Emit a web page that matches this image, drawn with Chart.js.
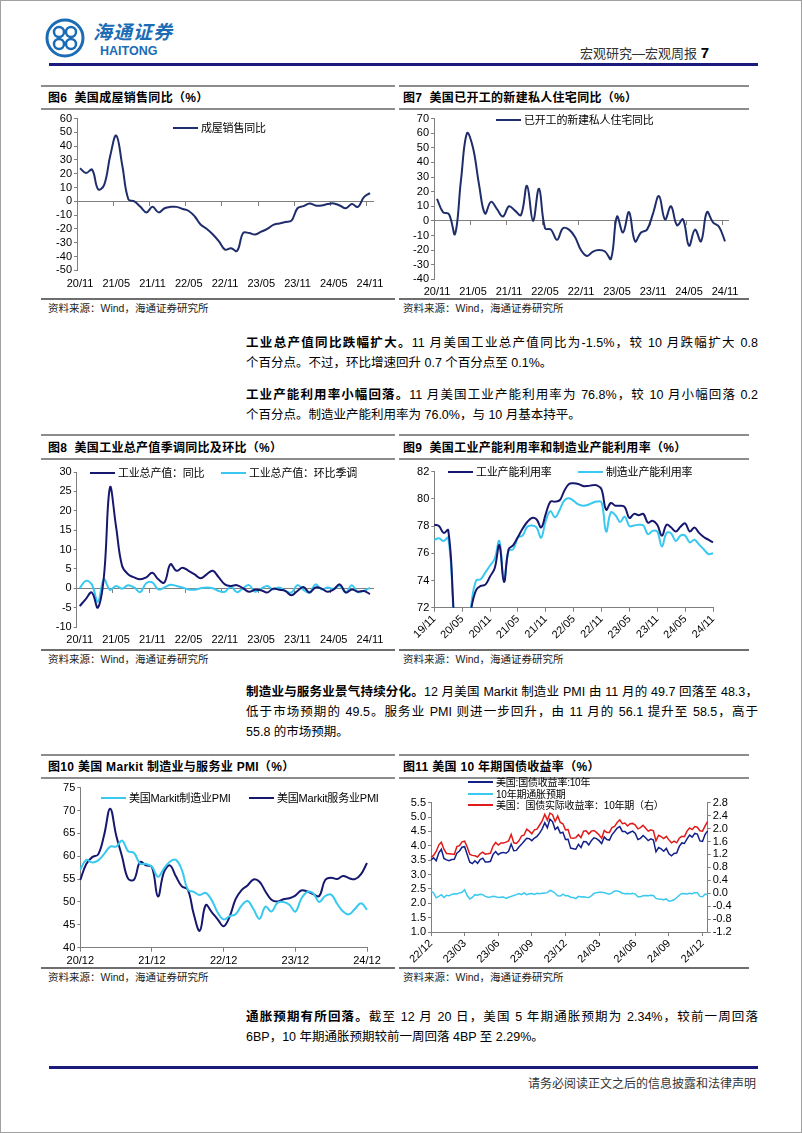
<!DOCTYPE html>
<html>
<head>
<meta charset="utf-8">
<title>宏观研究—宏观周报 7</title>
<script src="https://cdn.jsdelivr.net/npm/chart.js@4.4.1/dist/chart.umd.min.js"></script>
<style>
  body { margin: 0; background: #fff; }
  #page { position: relative; width: 802px; height: 1133px; overflow: hidden; box-sizing: border-box;
          border: 1px solid #a0a0a0; font-family: "Liberation Sans", Arial, "Noto Sans CJK SC", sans-serif; color: #000; }
  .abs { position: absolute; }
  .rule { position: absolute; height: 2px; background: #8c8c8c; }
  .navy { position: absolute; height: 3px; background: #1b1a7d; }
  .title { position: absolute; font-weight: bold; font-size: 12px; line-height: 14px; white-space: nowrap; letter-spacing: 0.3px; }
  .src { position: absolute; font-size: 10.5px; line-height: 13px; white-space: nowrap; color: #222; }
  .ln { position: absolute; left: 245px; width: 512px; height: 20px; font-size: 12.5px; line-height: 20px; }
  .ln.j { text-align: justify; text-align-last: justify; }
  .ln b { font-weight: bold; }
  canvas { position: absolute; }
  .lg { position: absolute; font-size: 11px; line-height: 12px; white-space: nowrap; letter-spacing: -0.2px; z-index: 2; }
  .lg i { display: inline-block; width: 25px; height: 2px; vertical-align: middle; margin-right: 3px; position: relative; top: -1px; }
  .lg.s { font-size: 10px; line-height: 11px; }
</style>
</head>
<body>
<div id="page">
  <!-- header -->
  <svg class="abs" style="left:44px;top:17px" width="40" height="40" viewBox="0 0 40 40">
    <circle cx="20" cy="20" r="18" fill="none" stroke="#1a6cb5" stroke-width="3"/>
    <circle cx="14" cy="14" r="5" fill="none" stroke="#1a6cb5" stroke-width="2.5"/>
    <circle cx="26" cy="14" r="5" fill="none" stroke="#1a6cb5" stroke-width="2.5"/>
    <circle cx="14" cy="26" r="5" fill="none" stroke="#1a6cb5" stroke-width="2.5"/>
    <circle cx="26" cy="26" r="5" fill="none" stroke="#1a6cb5" stroke-width="2.5"/>
  </svg>
  <div class="abs" style="left:92px;top:19px;font-size:19px;line-height:22px;font-weight:bold;font-style:italic;color:#1a6cb5;letter-spacing:1px;font-family:'Noto Sans CJK SC'">海通证券</div>
  <div class="abs" style="left:99px;top:43px;font-size:12.5px;line-height:14px;font-weight:bold;color:#1a6cb5">HAITONG</div>
  <div class="abs" style="left:520px;width:188px;top:44px;text-align:right;font-size:13px;line-height:16px;color:#333;white-space:nowrap">宏观研究—宏观周报 <b style="font-size:15px;color:#000">7</b></div>
  <div class="navy" style="left:48px;width:709px;top:62px"></div>

  <!-- row 1 -->
  <div class="rule" style="left:40px;width:354px;top:84px"></div>
  <div class="rule" style="left:398px;width:350px;top:84px"></div>
  <div class="title" style="left:47px;top:90px">图6&nbsp;&nbsp;美国成屋销售同比（%）</div>
  <div class="title" style="left:402px;top:90px">图7&nbsp;&nbsp;美国已开工的新建私人住宅同比（%）</div>
  <div class="rule" style="left:40px;width:354px;top:107px"></div>
  <div class="rule" style="left:398px;width:350px;top:107px"></div>
  <canvas id="c6"></canvas>
  <canvas id="c7"></canvas>
  <div class="lg" style="left:172px;top:121px"><i style="background:#1f2d6b"></i>成屋销售同比</div>
  <div class="lg" style="left:495px;top:113px"><i style="background:#1f2d6b"></i>已开工的新建私人住宅同比</div>
  <div class="rule" style="left:40px;width:354px;top:297px;background:#6e6e6e"></div>
  <div class="rule" style="left:398px;width:350px;top:297px;background:#6e6e6e"></div>
  <div class="src" style="left:47px;top:301px">资料来源：Wind，海通证券研究所</div>
  <div class="src" style="left:402px;top:301px">资料来源：Wind，海通证券研究所</div>

  <div class="ln j" style="top:332px"><b>工业总产值同比跌幅扩大。</b>11 月美国工业总产值同比为-1.5%，较 10 月跌幅扩大 0.8</div>
  <div class="ln" style="top:352px">个百分点。不过，环比增速回升 0.7 个百分点至 0.1%。</div>
  <div class="ln j" style="top:384px"><b>工业产能利用率小幅回落。</b>11 月美国工业产能利用率为 76.8%，较 10 月小幅回落 0.2</div>
  <div class="ln" style="top:404px">个百分点。制造业产能利用率为 76.0%，与 10 月基本持平。</div>

  <!-- row 2 -->
  <div class="rule" style="left:40px;width:354px;top:433px"></div>
  <div class="rule" style="left:398px;width:350px;top:433px"></div>
  <div class="title" style="left:47px;top:440px">图8&nbsp;&nbsp;美国工业总产值季调同比及环比（%）</div>
  <div class="title" style="left:402px;top:440px">图9&nbsp;&nbsp;美国工业产能利用率和制造业产能利用率（%）</div>
  <div class="rule" style="left:40px;width:354px;top:457px"></div>
  <div class="rule" style="left:398px;width:350px;top:457px"></div>
  <canvas id="c8"></canvas>
  <canvas id="c9"></canvas>
  <div class="lg" style="left:89px;top:466px"><i style="background:#16186e"></i>工业总产值：同比</div>
  <div class="lg" style="left:220px;top:466px"><i style="background:#38c8f0"></i>工业总产值：环比季调</div>
  <div class="lg" style="left:447px;top:465px"><i style="background:#16186e"></i>工业产能利用率</div>
  <div class="lg" style="left:577px;top:465px"><i style="background:#38c8f0"></i>制造业产能利用率</div>
  <div class="rule" style="left:40px;width:354px;top:648px;background:#6e6e6e"></div>
  <div class="rule" style="left:398px;width:350px;top:648px;background:#6e6e6e"></div>
  <div class="src" style="left:47px;top:652px">资料来源：Wind，海通证券研究所</div>
  <div class="src" style="left:402px;top:652px">资料来源：Wind，海通证券研究所</div>

  <div class="ln j" style="top:681px"><b>制造业与服务业景气持续分化。</b>12 月美国 Markit 制造业 PMI 由 11 月的 49.7 回落至 48.3，</div>
  <div class="ln j" style="top:701px">低于市场预期的 49.5。服务业 PMI 则进一步回升，由 11 月的 56.1 提升至 58.5，高于</div>
  <div class="ln" style="top:721px">55.8 的市场预期。</div>

  <!-- row 3 -->
  <div class="rule" style="left:40px;width:354px;top:753px"></div>
  <div class="rule" style="left:398px;width:350px;top:753px"></div>
  <div class="title" style="left:47px;top:759px">图10 美国 Markit 制造业与服务业 PMI（%）</div>
  <div class="title" style="left:402px;top:759px">图11 美国 10 年期国债收益率（%）</div>
  <div class="rule" style="left:40px;width:354px;top:776px"></div>
  <div class="rule" style="left:398px;width:350px;top:776px"></div>
  <canvas id="c10"></canvas>
  <canvas id="c11"></canvas>
  <div class="lg" style="left:100px;top:791px"><i style="background:#38c8f0"></i>美国Markit制造业PMI</div>
  <div class="lg" style="left:248px;top:791px"><i style="background:#16186e"></i>美国Markit服务业PMI</div>
  <div class="lg s" style="left:467px;top:776px"><i style="background:#12208a"></i>美国:国债收益率:10年</div>
  <div class="lg s" style="left:467px;top:787.5px"><i style="background:#38c8f0"></i>10年期通胀预期</div>
  <div class="lg s" style="left:467px;top:799px"><i style="background:#e01a1a"></i>美国：国债实际收益率：10年期（右）</div>
  <div class="rule" style="left:40px;width:354px;top:966px;background:#6e6e6e"></div>
  <div class="rule" style="left:398px;width:350px;top:966px;background:#6e6e6e"></div>
  <div class="src" style="left:47px;top:970px">资料来源：Wind，海通证券研究所</div>
  <div class="src" style="left:402px;top:970px">资料来源：Wind，海通证券研究所</div>

  <div class="ln j" style="top:1006px"><b>通胀预期有所回落。</b>截至 12 月 20 日，美国 5 年期通胀预期为 2.34%，较前一周回落</div>
  <div class="ln" style="top:1026px">6BP，10 年期通胀预期较前一周回落 4BP 至 2.29%。</div>

  <!-- footer -->
  <div class="navy" style="left:48px;width:709px;top:1065px"></div>
  <div class="abs" style="left:500px;width:255px;top:1076px;text-align:right;font-size:12px;line-height:14px;color:#333;white-space:nowrap">请务必阅读正文之后的信息披露和法律声明</div>
</div>

<script>
// ---- data ----
// 图6 成屋销售同比 (%), 2020/11 - 2024/11
const homeSalesYoY = [24, 20.5, 23, 8.7, 12, 33, 47.7, 26, 1.5, 0, -4, -8, -4, -8, -5, -4, -4, -5.5, -7, -11,
  -17, -20, -24, -29, -35, -34, -36, -23, -23, -24, -22, -20, -17, -16, -15, -14, -5, -3.5, -1.5, -3,
  -3, -2, -1.5, -3, -5, -2, -4, 3, 6];
// 图7 已开工的新建私人住宅同比 (%), 2020/11 - 2024/11
const housingStartsYoY = [15, 6, 4.5, -9, 28, 60, 50, 25, 5, 13, 8, 3, 10, 7, 4, 24, 0, 22, -5, -6,
  -13, -5, -6, -11, -20, -24, -21, -20, -21, -26, 3, -8, 6, -14, -8, -6, 5, 17, 1, 10,
  -3, 1, -17, -6, -14, 6, -1, -4, -14];
// 图8 工业总产值 (%), 2020/11 - 2024/11
const ipYoY = [-4.6, -2.8, -1.1, -5.0, 3.0, 26.0, 16.0, 5.8, 3.6, 2.8, 2.3, 2.8, 4.0, 2.3, 1.5, 6.2, 4.5, 5.3, 4.5, 3.6,
  2.6, 3.6, 4.5, 2.8, 1.0, 0.6, 0.8, 0.0, -0.9, -0.4, -0.5, -1.1, -0.1, -0.4, -0.7, -1.8, -0.7, 0.3, -1.1, 0.2,
  -0.1, -0.9, -0.3, 1.0, -1.1, -0.3, -0.9, -0.7, -1.5];
const ipMoM = [0.0, 1.9, 1.0, -3.5, 2.3, -0.4, 0.6, -0.1, 0.8, 0.2, -1.0, 1.3, 1.5, -0.3, 0.2, 0.9, 0.6, 0.2, -0.3, -0.4,
  0.0, 0.2, 0.0, -0.7, -0.9, 0.4, -1.0, 0.0, 0.8, -0.9, -0.1, 0.6, -0.3, 0.2, -0.7, -1.1, 0.8, -0.4, -1.1, 1.0,
  -0.3, 0.2, -0.1, 0.6, -1.1, 0.8, -1.0, -0.6, 0.1];
// 图9 产能利用率 (%), 2019/11 - 2024/11
const capUtilTotal = [78.1, 78.0, 77.5, 77.7, 72.8, 64.5, 65.5, 69.0, 72.0, 73.3, 73.6, 73.7, 74.3, 74.9, 76.6, 73.9,
  76.3, 76.6, 77.2, 77.8, 78.3, 78.6, 78.5, 77.9, 78.9, 79.8, 79.8, 79.9, 80.6, 81.1, 81.15, 81.1, 80.95, 80.95,
  81.0, 81.0, 80.7, 79.2, 79.7, 79.5, 79.5, 79.4, 78.6, 78.9, 78.8, 78.9, 78.25, 78.4, 78.1, 77.3, 78.1, 77.9,
  77.6, 77.95, 78.2, 77.6, 77.9, 77.5, 77.2, 77.0, 76.8];
const capUtilMfg = [77.0, 77.1, 76.9, 77.15, 72.5, 63.0, 64.0, 68.5, 72.3, 74.0, 74.1, 74.6, 75.1, 75.6, 76.9, 74.0,
  76.2, 76.3, 77.15, 77.3, 77.95, 78.05, 77.9, 77.15, 78.4, 79.1, 78.65, 79.2, 79.9, 80.05, 79.85, 79.6, 79.5, 79.55,
  79.7, 79.8, 79.75, 77.6, 79.0, 78.8, 78.3, 78.7, 78.0, 78.05, 78.1, 78.05, 77.4, 77.65, 77.6, 76.5, 77.5, 77.45,
  76.9, 77.3, 77.3, 76.8, 77.0, 76.65, 76.3, 75.95, 76.0];
// 图10 Markit PMI, 2020/12 - 2024/12
const pmiMfg = [57.1, 59.2, 58.6, 59.1, 60.5, 62.1, 62.1, 63.4, 61.1, 60.7, 58.4, 58.3, 57.7,
  55.5, 57.3, 58.8, 59.2, 57.0, 52.7, 52.2, 51.5, 52.0, 50.4, 47.7, 46.2,
  46.9, 47.3, 49.2, 50.2, 48.4, 46.3, 49.0, 47.9, 49.8, 50.0, 49.4, 47.9,
  50.7, 52.2, 51.9, 50.0, 51.3, 51.6, 49.6, 47.9, 47.3, 48.5, 49.7, 48.3];
const pmiSvc = [54.8, 58.3, 59.8, 60.4, 64.7, 70.4, 64.6, 59.9, 55.1, 54.9, 58.7, 58.0, 57.6,
  51.2, 56.5, 58.0, 55.6, 53.4, 52.7, 47.3, 43.7, 49.3, 47.8, 46.2, 44.7,
  46.8, 50.6, 52.6, 53.6, 54.9, 54.4, 52.3, 50.5, 50.1, 50.6, 50.8, 51.4,
  52.5, 52.3, 51.7, 51.3, 54.8, 55.3, 55.0, 55.7, 55.2, 55.0, 56.1, 58.5];
// 图11 weekly (Fridays 2022-12-02 .. 2024-12-20)
const nominal10y = [3.51, 3.58, 3.48, 3.75, 3.88,
  3.56, 3.51, 3.48, 3.52, 3.53, 3.74, 3.82, 3.95, 3.97, 3.70, 3.43, 3.38, 3.48, 3.39, 3.52, 3.57, 3.44,
  3.44, 3.46, 3.70, 3.80, 3.69, 3.75, 3.77, 3.74, 3.81, 4.06, 3.83, 3.84, 3.96, 4.05, 4.16, 4.26, 4.25,
  4.18, 4.27, 4.33, 4.44, 4.59, 4.80, 4.63, 4.93, 4.84, 4.57, 4.65, 4.44, 4.47, 4.22, 4.23, 3.92, 3.90, 3.88,
  4.05, 3.94, 4.15, 4.14, 4.03, 4.18, 4.28, 4.25, 4.18, 4.08, 4.31, 4.22, 4.20, 4.39, 4.50, 4.62, 4.67,
  4.50, 4.50, 4.42, 4.47, 4.51, 4.43, 4.22, 4.26, 4.36, 4.28, 4.18, 4.24, 4.20, 3.79, 3.94, 3.89, 3.81, 3.91,
  3.72, 3.65, 3.73, 3.75, 3.98, 4.10, 4.08, 4.24, 4.37, 4.30, 4.43, 4.41, 4.17, 4.15, 4.40, 4.52];
const breakeven10y = [2.42, 2.36, 2.19, 2.24, 2.30,
  2.20, 2.28, 2.26, 2.31, 2.33, 2.32, 2.36, 2.38, 2.47, 2.27, 2.15, 2.20, 2.30, 2.28, 2.31, 2.30, 2.24,
  2.21, 2.22, 2.24, 2.23, 2.20, 2.21, 2.22, 2.17, 2.21, 2.24, 2.27, 2.30, 2.34, 2.30, 2.36, 2.30, 2.33,
  2.34, 2.31, 2.35, 2.33, 2.35, 2.36, 2.37, 2.45, 2.41, 2.35, 2.26, 2.25, 2.32, 2.26, 2.26, 2.21, 2.20, 2.16,
  2.24, 2.22, 2.23, 2.21, 2.20, 2.26, 2.34, 2.37, 2.38, 2.38, 2.37, 2.34, 2.32, 2.36, 2.43, 2.43, 2.40,
  2.35, 2.33, 2.34, 2.32, 2.35, 2.32, 2.23, 2.23, 2.26, 2.27, 2.26, 2.28, 2.27, 2.17, 2.15, 2.14, 2.12, 2.15,
  2.07, 2.09, 2.12, 2.19, 2.28, 2.34, 2.33, 2.32, 2.35, 2.33, 2.37, 2.37, 2.24, 2.23, 2.32, 2.30];
const real10y = [1.11, 1.17, 1.29, 1.49, 1.58,
  1.36, 1.23, 1.22, 1.21, 1.20, 1.44, 1.47, 1.59, 1.61, 1.43, 1.20, 1.17, 1.16, 1.12, 1.22, 1.27, 1.21,
  1.22, 1.24, 1.46, 1.57, 1.49, 1.55, 1.55, 1.58, 1.62, 1.82, 1.56, 1.54, 1.62, 1.77, 1.80, 1.98, 1.92,
  1.84, 1.96, 1.98, 2.11, 2.24, 2.44, 2.26, 2.48, 2.43, 2.22, 2.39, 2.19, 2.15, 1.96, 1.97, 1.71, 1.70, 1.72,
  1.81, 1.72, 1.92, 1.93, 1.83, 1.92, 1.94, 1.88, 1.80, 1.70, 1.94, 1.88, 1.88, 2.03, 2.07, 2.19, 2.27,
  2.15, 2.17, 2.08, 2.15, 2.16, 2.11, 1.99, 2.03, 2.10, 2.01, 1.92, 1.96, 1.93, 1.62, 1.79, 1.75, 1.69, 1.76,
  1.65, 1.56, 1.61, 1.56, 1.70, 1.76, 1.75, 1.92, 2.02, 1.97, 2.06, 2.04, 1.93, 1.92, 2.08, 2.22];
const yieldTickLabels = ['22/12', '23/03', '23/06', '23/09', '23/12', '24/03', '24/06', '24/09', '24/12'];

// month labels like "20/11"
function monthLabels(yy, mm, n) {
  const out = [];
  for (let i = 0; i < n; i++) {
    const m = mm - 1 + i;
    out.push(String(yy + Math.floor(m / 12)) + '/' + String(m % 12 + 1).padStart(2, '0'));
  }
  return out;
}
const months2011 = monthLabels(20, 11, 49);
const months1911 = monthLabels(19, 11, 61);
const months2012 = monthLabels(20, 12, 49);
const yieldWeeks = nominal10y.map((_, i) => {
  const d = new Date(Date.UTC(2022, 11, 2 + 7 * i));
  return String(d.getUTCFullYear() % 100) + '/' + String(d.getUTCMonth() + 1).padStart(2, '0');
});

// ---- styling ----
const NAVY = '#1f2d6b', DARK = '#16186e', BLUE11 = '#12208a', CYAN = '#38c8f0', RED = '#e01a1a';
const GRAY = '#7f7f7f', CLEAR = 'rgba(0,0,0,0)';
Chart.defaults.font.family = '"Liberation Sans", Arial, sans-serif';
Chart.defaults.font.size = 11;
Chart.defaults.color = '#000';
Chart.defaults.elements.line.capBezierPoints = false;

function makeChart(id, box, plot, spec) {
  const el = document.getElementById(id);
  el.width = box.w; el.height = box.h;
  el.style.left = box.x + 'px'; el.style.top = box.y + 'px';
  const padL = plot.l - box.x, padT = plot.t - box.y;
  const padR = box.x + box.w - plot.r, padB = box.y + box.h - plot.b;
  const offset = !!spec.offset;
  const scales = {
    x: {
      type: 'category', position: 'bottom', offset,
      grid: { display: !!spec.marks, drawOnChartArea: false, drawTicks: !!spec.marks, tickLength: 4, offset,
              color: c => spec.show(c.index) ? GRAY : CLEAR },
      border: { display: !!spec.marks, color: GRAY },
      ticks: { autoSkip: false, maxRotation: spec.rot || 0, minRotation: spec.rot || 0, padding: spec.labelPad,
               callback: function (v, i) { return spec.show(i) ? this.getLabelForValue(v) : ''; } },
      afterFit: s => { s.height = padB; }
    }
  };
  if (spec.zero) {
    scales.xz = {
      type: 'category', position: { y: 0 }, offset,
      grid: { drawOnChartArea: false, drawTicks: true, tickLength: 4, offset,
              color: c => (c.index > 0 && spec.show(c.index)) ? GRAY : CLEAR },
      border: { color: GRAY },
      ticks: { display: false }
    };
  }
  const yAxis = (a, pos, width) => ({
    type: 'linear', position: pos, min: a.min, max: a.max,
    ticks: { stepSize: a.step, autoSkip: false, padding: 2, callback: a.fmt || (v => v) },
    grid: { drawOnChartArea: false, drawTicks: true, tickLength: 3, color: GRAY },
    border: { color: GRAY },
    afterFit: s => { s.width = width; }
  });
  scales.y = yAxis(spec.y, 'left', padL);
  if (spec.y2) scales.y2 = yAxis(spec.y2, 'right', padR);

  new Chart(el, {
    type: 'line',
    data: {
      labels: spec.labels,
      datasets: spec.series.map(s => ({
        label: s.name, data: s.data, borderColor: s.color, borderWidth: s.width || 2,
        tension: spec.tension === undefined ? 0.4 : spec.tension, yAxisID: s.axis || 'y', pointRadius: 0
      }))
    },
    options: {
      responsive: false, animation: false, events: [],
      layout: { padding: { left: 0, top: padT, right: spec.y2 ? 0 : padR, bottom: 0 } },
      plugins: { legend: { display: false }, tooltip: { enabled: false } },
      scales
    }
  });
}

const every = n => i => i % n === 0;
const fix1 = v => Number(v).toFixed(1);

makeChart('c6', { x: 40, y: 109, w: 354, h: 188 }, { l: 76, t: 114.3, r: 372, b: 269.3 }, {
  labels: months2011, offset: true, zero: true, show: every(6), labelPad: 7,
  y: { min: -50, max: 60, step: 10 },
  series: [{ name: '成屋销售同比', data: homeSalesYoY, color: NAVY }]
});

makeChart('c7', { x: 398, y: 109, w: 350, h: 188 }, { l: 433, t: 114.3, r: 727, b: 278.3 }, {
  labels: months2011, offset: true, zero: true, show: every(6), labelPad: 6,
  y: { min: -40, max: 70, step: 10 },
  series: [{ name: '已开工的新建私人住宅同比', data: housingStartsYoY, color: NAVY }]
});

makeChart('c8', { x: 40, y: 459, w: 354, h: 189 }, { l: 75.7, t: 471, r: 372, b: 626 }, {
  labels: months2011, offset: true, zero: true, show: every(6), labelPad: 6.5,
  y: { min: -10, max: 30, step: 5 },
  series: [
    { name: '工业总产值：同比', data: ipYoY, color: DARK },
    { name: '工业总产值：环比季调', data: ipMoM, color: CYAN }
  ]
});

makeChart('c9', { x: 398, y: 459, w: 350, h: 189 }, { l: 433.3, t: 470.7, r: 712, b: 606.7 }, {
  labels: months1911, marks: true, rot: 45, show: every(6), labelPad: 1,
  y: { min: 72, max: 82, step: 2 },
  series: [
    { name: '工业产能利用率', data: capUtilTotal, color: DARK },
    { name: '制造业产能利用率', data: capUtilMfg, color: CYAN }
  ]
});

makeChart('c10', { x: 40, y: 778, w: 354, h: 188 }, { l: 79.3, t: 783.3, r: 366, b: 946.7 }, {
  labels: months2012, marks: true, show: every(12), labelPad: 3,
  y: { min: 40, max: 75, step: 5 },
  series: [
    { name: '美国Markit制造业PMI', data: pmiMfg, color: CYAN },
    { name: '美国Markit服务业PMI', data: pmiSvc, color: DARK }
  ]
});

makeChart('c11', { x: 398, y: 778, w: 350, h: 188 }, { l: 430, t: 801.7, r: 706.7, b: 931 }, {
  labels: yieldWeeks, marks: true, rot: 45, tension: 0, labelPad: 1,
  show: i => yieldTickLabels.includes(yieldWeeks[i]) && (i === 0 || yieldWeeks[i - 1] !== yieldWeeks[i]),
  y: { min: 1, max: 5.5, step: 0.5, fmt: fix1 },
  y2: { min: -1.2, max: 2.8, step: 0.4, fmt: fix1 },
  series: [
    { name: '美国:国债收益率:10年', data: nominal10y, color: BLUE11, width: 1.5 },
    { name: '10年期通胀预期', data: breakeven10y, color: CYAN, width: 1.5 },
    { name: '美国：国债实际收益率：10年期（右）', data: real10y, color: RED, width: 1.5, axis: 'y2' }
  ]
});
</script>
</body>
</html>
